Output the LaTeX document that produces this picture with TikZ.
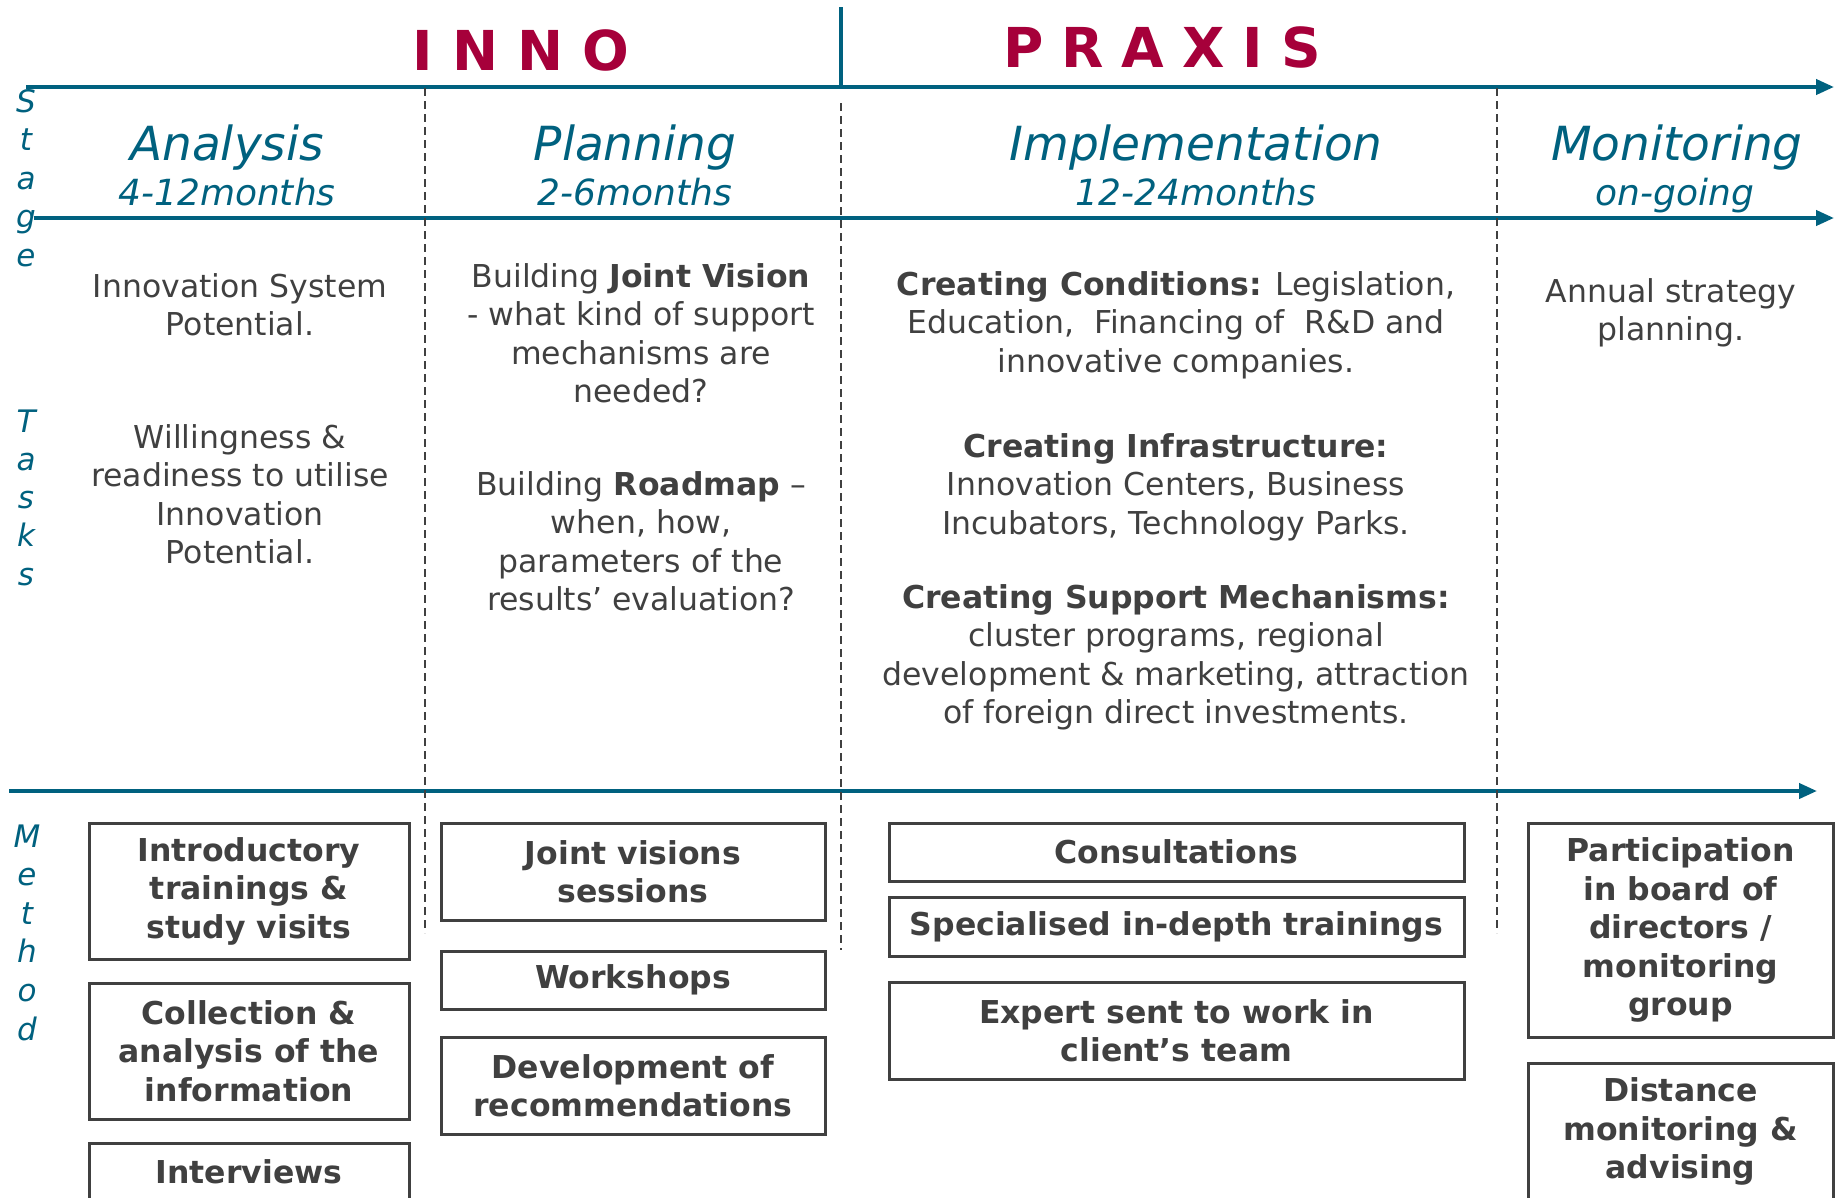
\documentclass[tikz,border=0pt]{standalone}
\usepackage{fontspec}
\setmainfont{DejaVu Sans}
\usetikzlibrary{arrows.meta}
\definecolor{tealc}{HTML}{00617F}
\definecolor{crim}{HTML}{A6003A}
\definecolor{txt}{HTML}{404040}
\begin{document}
\begin{tikzpicture}[x=1pt,y=-1pt,
  axisline/.style={line width=4pt, draw=tealc},
  axisarrow/.style={axisline, -{Triangle[length=18pt,width=15pt]}},
  sepline/.style={line width=2pt, draw=txt, dash pattern=on 8pt off 5pt},
  headtxt/.style={text=crim, font=\fontsize{55}{60}\selectfont\bfseries, anchor=base, inner sep=0},
  stagetitle/.style={text=tealc, font=\fontsize{47}{50}\selectfont\itshape, anchor=base, inner sep=0},
  stagesub/.style={text=tealc, font=\fontsize{36}{40}\selectfont\itshape, anchor=base, inner sep=0},
  vlet/.style={text=tealc, font=\fontsize{31}{34}\selectfont\itshape, anchor=base, inner sep=0},
  tasktxt/.style={text=txt, font=\fontsize{31.5}{38.5}\selectfont, align=center, anchor=base, inner sep=0},
  mbox/.style={draw=txt, line width=3pt, text=txt, font=\fontsize{31.5}{38.5}\selectfont\bfseries, align=center, inner sep=0},
]
\clip (0,0) rectangle (1835,1197);
\fill[white] (0,0) rectangle (1835,1197);

% headings
\node[headtxt] (inno) at (521,70) {I\hspace{19pt}N\hspace{19pt}N\hspace{19pt}O};
\node[headtxt] (praxis) at (1162,67) {P\hspace{18pt}R\hspace{18pt}A\hspace{18pt}X\hspace{18pt}I\hspace{18pt}S};

% axes
\coordinate (a1s) at (26,87);  \coordinate (a1e) at (1834,87);
\coordinate (a2s) at (34,218); \coordinate (a2e) at (1834,218);
\coordinate (a3s) at (9,791);  \coordinate (a3e) at (1817,791);
\coordinate (vs) at (841,7);   \coordinate (ve) at (841,87);
\draw[axisline] (vs) -- (ve);
\draw[axisarrow] (a1s) -- (a1e);
\draw[axisarrow] (a2s) -- (a2e);
\draw[axisarrow] (a3s) -- (a3e);

% dashed separators
\coordinate (d1s) at (425,88);  \coordinate (d1e) at (425,933);
\coordinate (d2s) at (841,103); \coordinate (d2e) at (841,950);
\coordinate (d3s) at (1497,88); \coordinate (d3e) at (1497,933);
\draw[sepline] (d1s) -- (d1e);
\draw[sepline] (d2s) -- (d2e);
\draw[sepline] (d3s) -- (d3e);

% stage titles
\node[stagetitle] (t1) at (227,160) {Analysis};
\node[stagesub] (s1) at (227,205) {4-12months};
\node[stagetitle] (t2) at (635,160) {Planning};
\node[stagesub] (s2) at (635,205) {2-6months};
\node[stagetitle] (t3) at (1196,160) {Implementation};
\node[stagesub] (s3) at (1196,205) {12-24months};
\node[stagetitle] (t4) at (1677,160) {Monitoring};
\node[stagesub] (s4) at (1675,205) {on-going};

% vertical labels
\foreach \l [count=\i] in {S,t,a,g,e}
  \node[vlet] (stage\i) at (26,{112+38.5*(\i-1)}) {\l};
\foreach \l [count=\i] in {T,a,s,k,s}
  \node[vlet] (task\i) at (26,{432+38.3*(\i-1)}) {\l};
\foreach \l [count=\i] in {M,e,t,h,o,d}
  \node[vlet] (meth\i) at (27,{847+38.6*(\i-1)}) {\l};

% tasks (anchor base = baseline of last line)
\node[tasktxt] (ta1) at (240,335.5) {Innovation System\\Potential.};
\node[tasktxt] (ta2) at (240,563.5) {Willingness \&\\readiness to utilise\\Innovation\\Potential.};
\node[tasktxt] (tp1) at (641,402.5) {Building \textbf{Joint Vision}\\- what kind of support\\mechanisms are\\needed?};
\node[tasktxt] (tp2) at (641,610.5) {Building \textbf{Roadmap} –\\when, how,\\parameters of the\\results’ evaluation?};
\node[tasktxt] (ti1) at (1176,372) {\textbf{Creating Conditions:} Legislation,\\Education,\ \ Financing of\ \ R\&D and\\innovative companies.};
\node[tasktxt] (ti2) at (1176,534) {\textbf{Creating Infrastructure:}\\Innovation Centers, Business\\Incubators, Technology Parks.};
\node[tasktxt] (ti3) at (1176,723.5) {\textbf{Creating Support Mechanisms:}\\cluster programs, regional\\development \& marketing, attraction\\of foreign direct investments.};
\node[tasktxt] (tm1) at (1671,340.5) {Annual strategy\\planning.};

% method boxes
\node[mbox, minimum width=320, minimum height=136] (m1) at (249,891) {Introductory\\trainings \&\\study visits};
\node[mbox, minimum width=320, minimum height=136] (m2) at (249,1051) {Collection \&\\analysis of the\\information};
\node[mbox, minimum width=320, minimum height=58] (m3) at (249,1172) {Interviews};
\node[mbox, minimum width=384, minimum height=97] (m4) at (633,871.5) {Joint visions\\sessions};
\node[mbox, minimum width=384, minimum height=58] (m5) at (633,980) {Workshops};
\node[mbox, minimum width=384, minimum height=97] (m6) at (633,1085.5) {Development of\\recommendations};
\node[mbox, minimum width=575, minimum height=58] (m7) at (1176.5,852) {Consultations};
\node[mbox, minimum width=575, minimum height=59] (m8) at (1176.5,926.5) {Specialised in-depth trainings};
\node[mbox, minimum width=575, minimum height=97] (m9) at (1176.5,1030.5) {Expert sent to work in\\client’s team};
\node[mbox, minimum width=305, minimum height=214] (m10) at (1680.5,930) {Participation\\in board of\\directors /\\monitoring\\group};
\node[mbox, minimum width=305, minimum height=137] (m11) at (1680.5,1131.5) {Distance\\monitoring \&\\advising};
\end{tikzpicture}
\end{document}
